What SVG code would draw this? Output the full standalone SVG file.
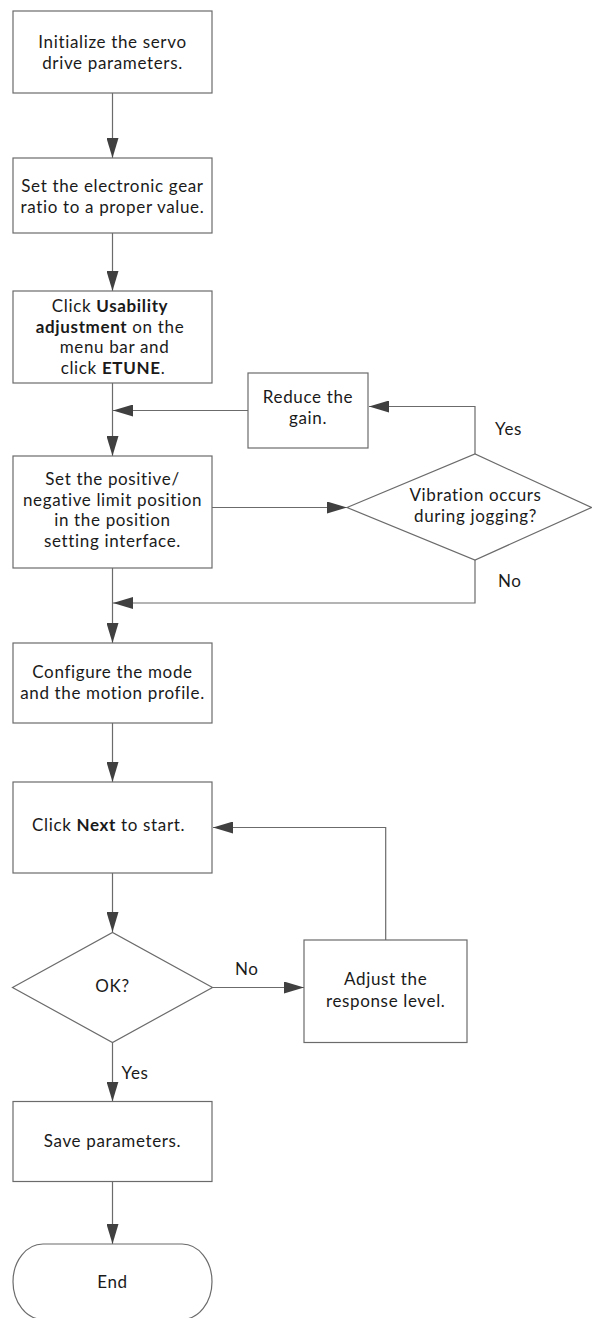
<svg xmlns="http://www.w3.org/2000/svg" width="592" height="1318" viewBox="0 0 592 1318">
<defs>
<style>
.box{fill:#fff;stroke:#6b6b6b;stroke-width:1.2}
.ln{fill:none;stroke:#6b6b6b;stroke-width:1.2}
.t{font-family:Lato,"Noto Sans",sans-serif;font-size:17px;letter-spacing:0.65px;fill:#1a1a1a;text-anchor:middle}
.l{font-family:Lato,"Noto Sans",sans-serif;font-size:17px;letter-spacing:0.65px;fill:#1a1a1a}
.b{font-weight:bold}
</style>
<marker id="ah" markerUnits="userSpaceOnUse" markerWidth="20" markerHeight="12" refX="20" refY="6" orient="auto">
<path d="M0,0 L20,6 L0,12 Z" fill="#404040"/>
</marker>
</defs>
<rect width="592" height="1318" fill="#fff"/>
<g id="connectors">
<path class="ln" d="M112.5,93 V158" marker-end="url(#ah)"/>
<path class="ln" d="M112.5,233 V291" marker-end="url(#ah)"/>
<path class="ln" d="M112.5,383 V456" marker-end="url(#ah)"/>
<path class="ln" d="M248,410.5 H113" marker-end="url(#ah)"/>
<path class="ln" d="M212,507.5 H347" marker-end="url(#ah)"/>
<path class="ln" d="M475,454 V406.5 H369" marker-end="url(#ah)"/>
<path class="ln" d="M475,560 V603 H113" marker-end="url(#ah)"/>
<path class="ln" d="M112.5,568 V643" marker-end="url(#ah)"/>
<path class="ln" d="M112.5,723 V782" marker-end="url(#ah)"/>
<path class="ln" d="M112.5,873 V932" marker-end="url(#ah)"/>
<path class="ln" d="M212.5,987.5 H304" marker-end="url(#ah)"/>
<path class="ln" d="M385.7,940 V827.5 H213" marker-end="url(#ah)"/>
<path class="ln" d="M112.5,1042.5 V1101.5" marker-end="url(#ah)"/>
<path class="ln" d="M112.5,1181.5 V1244" marker-end="url(#ah)"/>
<text class="l" x="495" y="435">Yes</text>
<text class="l" x="498" y="587">No</text>
<text class="l" x="235" y="975">No</text>
<text class="l" x="121.5" y="1079">Yes</text>
</g>
<g id="init">
<rect class="box" x="13" y="11" width="199" height="82"/>
<text class="t"><tspan x="112.5" y="48">Initialize the servo</tspan><tspan x="112.5" y="68.5">drive parameters.</tspan></text>
</g>
<g id="gear">
<rect class="box" x="13" y="158" width="199" height="75"/>
<text class="t"><tspan x="112.5" y="192">Set the electronic gear</tspan><tspan x="112.5" y="212.5">ratio to a proper value.</tspan></text>
</g>
<g id="usability">
<rect class="box" x="13" y="291" width="199" height="92"/>
<text class="t"><tspan x="110" y="312">Click <tspan class="b">Usability</tspan></tspan><tspan x="110" y="332.5"><tspan class="b">adjustment</tspan> on the</tspan><tspan x="114.5" y="353">menu bar and</tspan><tspan x="113" y="373.5">click <tspan class="b">ETUNE</tspan>.</tspan></text>
</g>
<g id="reduce">
<rect class="box" x="248" y="373" width="120" height="75"/>
<text class="t"><tspan x="308" y="403">Reduce the</tspan><tspan x="308" y="424">gain.</tspan></text>
</g>
<g id="limit">
<rect class="box" x="13" y="456" width="199" height="112"/>
<text class="t"><tspan x="112.5" y="485">Set the positive/</tspan><tspan x="112.5" y="505.5">negative limit position</tspan><tspan x="112.5" y="526">in the position</tspan><tspan x="112.5" y="546.5">setting interface.</tspan></text>
</g>
<g id="vibration">
<polygon class="box" points="347,507.5 475,454 591.5,507.5 475,560"/>
<text class="t"><tspan x="475.5" y="501.25">Vibration occurs</tspan><tspan x="475.5" y="521.75">during jogging?</tspan></text>
</g>
<g id="mode">
<rect class="box" x="13" y="643" width="199" height="80"/>
<text class="t"><tspan x="112.5" y="678">Configure the mode</tspan><tspan x="112.5" y="698.5">and the motion profile.</tspan></text>
</g>
<g id="next">
<rect class="box" x="13" y="782" width="199" height="91"/>
<text class="l" x="32" y="831">Click <tspan class="b">Next</tspan> to start.</text>
</g>
<g id="ok">
<polygon class="box" points="12.5,987.5 112.5,932.5 212.5,987.5 112.5,1042.5"/>
<text class="t" x="112.5" y="992">OK?</text>
</g>
<g id="adjust">
<rect class="box" x="304" y="940" width="163" height="102.5"/>
<text class="t"><tspan x="385.7" y="985">Adjust the</tspan><tspan x="385.7" y="1006.5">response level.</tspan></text>
</g>
<g id="save">
<rect class="box" x="13" y="1101.5" width="199" height="80"/>
<text class="t" x="112.5" y="1146.5">Save parameters.</text>
</g>
<g id="end">
<path class="box" d="M43,1244 H182 A30,37.7 0 0 1 182,1319.4 H43 A30,37.7 0 0 1 43,1244 Z"/>
<text class="t" x="112.5" y="1288">End</text>
</g>
</svg>
